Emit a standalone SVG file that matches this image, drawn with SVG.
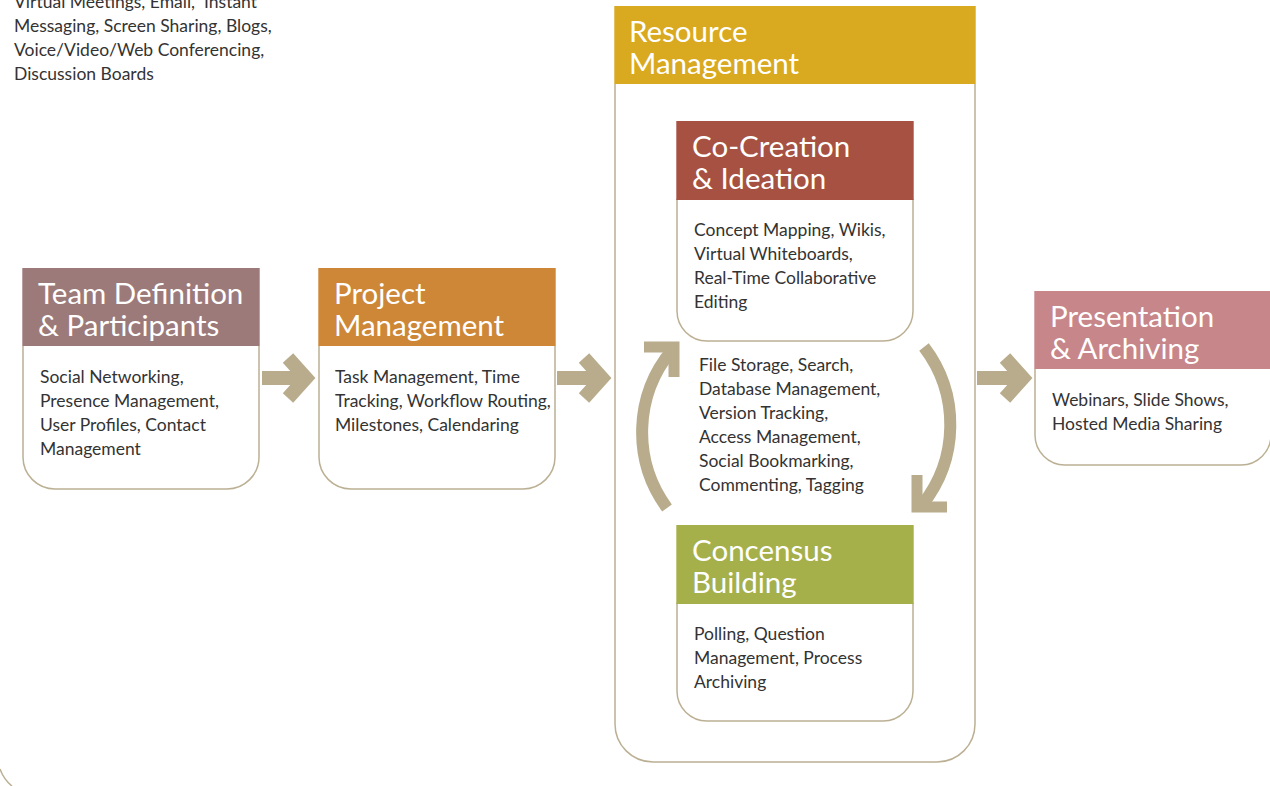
<svg xmlns="http://www.w3.org/2000/svg" width="1270" height="786" viewBox="0 0 1270 786">
<style>
.title{font-family:Lato,"Liberation Sans",sans-serif;font-size:29.5px;fill:#ffffff}
.body{font-family:Lato,"Liberation Sans",sans-serif;font-size:17.5px;fill:#333333}
.outline{fill:#ffffff;stroke:#bcb094;stroke-width:1.5}
.arr{fill:none;stroke:#b9ac8c;stroke-width:14}
.chev{fill:none;stroke:#b9ac8c;stroke-width:14;stroke-linejoin:miter;stroke-miterlimit:4}
.carc{fill:none;stroke:#b9ac8c;stroke-width:12}
.cchev{fill:none;stroke:#b9ac8c;stroke-width:11;stroke-linejoin:miter}
</style>
<rect width="1270" height="786" fill="#ffffff"/>
<path d="M 0 769 Q 4 780 12 786" fill="none" stroke="#bcb094" stroke-width="1.5"/>
<g id="intro">
<text class="body" x="14" y="8">Virtual Meetings, Email, &#160;Instant</text>
<text class="body" x="14" y="32">Messaging, Screen Sharing, Blogs,</text>
<text class="body" x="14" y="56">Voice/Video/Web Conferencing,</text>
<text class="body" x="14" y="80">Discussion Boards</text>
</g>
<g id="resource">
<path class="outline" d="M 615 84 V 724 A 38 38 0 0 0 653 762 H 937 A 38 38 0 0 0 975 724 V 84"/>
<rect x="614.3" y="6" width="361.4" height="78" fill="#d9a91f"/>
<text class="title" x="629" y="42">Resource</text>
<text class="title" x="629" y="74">Management</text>
<text class="body" x="699" y="371">File Storage, Search,</text>
<text class="body" x="699" y="395">Database Management,</text>
<text class="body" x="699" y="419">Version Tracking,</text>
<text class="body" x="699" y="443">Access Management,</text>
<text class="body" x="699" y="467">Social Bookmarking,</text>
<text class="body" x="699" y="491">Commenting, Tagging</text>
</g>
<g id="team">
<path class="outline" d="M 23 346 V 457 A 32 32 0 0 0 55 489 H 227 A 32 32 0 0 0 259 457 V 346"/>
<rect x="22.3" y="268" width="237.4" height="78" fill="#9c7a7a"/>
<text class="title" x="38" y="304">Team Definition</text>
<text class="title" x="38" y="336">&amp; Participants</text>
<text class="body" x="40" y="383">Social Networking,</text>
<text class="body" x="40" y="407">Presence Management,</text>
<text class="body" x="40" y="431">User Profiles, Contact</text>
<text class="body" x="40" y="455">Management</text>
</g>
<g id="project">
<path class="outline" d="M 319 346 V 457 A 32 32 0 0 0 351 489 H 523 A 32 32 0 0 0 555 457 V 346"/>
<rect x="318.3" y="268" width="237.4" height="78" fill="#cd8736"/>
<text class="title" x="334" y="304">Project</text>
<text class="title" x="334" y="336">Management</text>
<text class="body" x="335" y="383">Task Management, Time</text>
<text class="body" x="335" y="407">Tracking, Workflow Routing,</text>
<text class="body" x="335" y="431">Milestones, Calendaring</text>
</g>
<g id="cocreation">
<path class="outline" d="M 677 199 V 311 A 30 30 0 0 0 707 341 H 883 A 30 30 0 0 0 913 311 V 199"/>
<rect x="676.3" y="121" width="237.4" height="79" fill="#a65142"/>
<text class="title" x="692" y="157">Co-Creation</text>
<text class="title" x="692" y="189">&amp; Ideation</text>
<text class="body" x="694" y="236">Concept Mapping, Wikis,</text>
<text class="body" x="694" y="260">Virtual Whiteboards,</text>
<text class="body" x="694" y="284">Real-Time Collaborative</text>
<text class="body" x="694" y="308">Editing</text>
</g>
<g id="consensus">
<path class="outline" d="M 677 603 V 691 A 30 30 0 0 0 707 721 H 883 A 30 30 0 0 0 913 691 V 603"/>
<rect x="676.3" y="525" width="237.4" height="79" fill="#a5b04b"/>
<text class="title" x="692" y="561">Concensus</text>
<text class="title" x="692" y="593">Building</text>
<text class="body" x="694" y="640">Polling, Question</text>
<text class="body" x="694" y="664">Management, Process</text>
<text class="body" x="694" y="688">Archiving</text>
</g>
<g id="presentation">
<path class="outline" d="M 1035 369 V 435 A 30 30 0 0 0 1065 465 H 1241 A 30 30 0 0 0 1271 435 V 369"/>
<rect x="1034.3" y="291" width="237.4" height="78" fill="#c7868a"/>
<text class="title" x="1050" y="327">Presentation</text>
<text class="title" x="1050" y="359">&amp; Archiving</text>
<text class="body" x="1052" y="406">Webinars, Slide Shows,</text>
<text class="body" x="1052" y="430">Hosted Media Sharing</text>
</g>
<g id="connectors">
<line class="arr" x1="262" y1="378" x2="304" y2="378"/>
<polyline class="chev" points="288,358 306,378 288,398"/>
<line class="arr" x1="557" y1="378" x2="600" y2="378"/>
<polyline class="chev" points="584,358 602,378 584,398"/>
<line class="arr" x1="977" y1="378" x2="1020" y2="378"/>
<polyline class="chev" points="1005,358 1023,378 1005,398"/>
<path class="carc" d="M 667 508 A 128 128 0 0 1 672 350"/>
<polyline class="cchev" points="644,347 674,347 674,377"/>
<path class="carc" d="M 924 347 A 128 128 0 0 1 922 505"/>
<polyline class="cchev" points="917,475 917,507 947,507"/>
</g>
</svg>
